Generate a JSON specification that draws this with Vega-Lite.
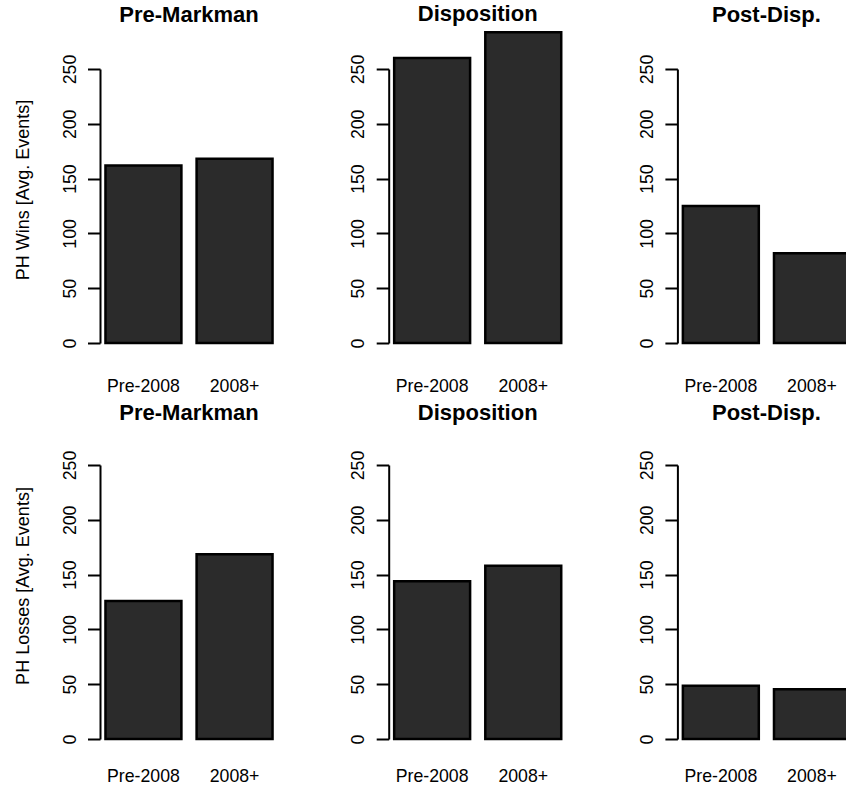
{
  "$schema": "https://vega.github.io/schema/vega-lite/v6.json",
  "padding": {"left": 13, "top": 3, "right": 0, "bottom": 0},
  "background": "white",
  "data": {
    "values": [
      {"metric": "Wins", "stage": "Pre-Markman", "period": "Pre-2008", "value": 162},
      {"metric": "Wins", "stage": "Pre-Markman", "period": "2008+", "value": 168},
      {"metric": "Wins", "stage": "Disposition", "period": "Pre-2008", "value": 260},
      {"metric": "Wins", "stage": "Disposition", "period": "2008+", "value": 283.5},
      {"metric": "Wins", "stage": "Post-Disp.", "period": "Pre-2008", "value": 125},
      {"metric": "Wins", "stage": "Post-Disp.", "period": "2008+", "value": 82},
      {"metric": "Losses", "stage": "Pre-Markman", "period": "Pre-2008", "value": 126},
      {"metric": "Losses", "stage": "Pre-Markman", "period": "2008+", "value": 168.5},
      {"metric": "Losses", "stage": "Disposition", "period": "Pre-2008", "value": 144},
      {"metric": "Losses", "stage": "Disposition", "period": "2008+", "value": 158},
      {"metric": "Losses", "stage": "Post-Disp.", "period": "Pre-2008", "value": 48.5},
      {"metric": "Losses", "stage": "Post-Disp.", "period": "2008+", "value": 45.5}
    ]
  },
  "config": {
    "view": {"stroke": null},
    "font": "Liberation Sans",
    "title": {"font": "Liberation Sans", "fontSize": 22, "fontWeight": "bold", "color": "black", "anchor": "middle", "frame": "group", "baseline": "alphabetic", "offset": 27.6},
    "axisX": {"domain": false, "ticks": false, "tickSize": 0, "grid": false, "labelFont": "Liberation Sans", "labelFontSize": 17.7, "labelColor": "black", "labelAngle": 0, "labelBaseline": "alphabetic", "labelPadding": 48.5, "title": null},
    "axisY": {"domainColor": "black", "domainWidth": 2, "tickColor": "black", "tickWidth": 2, "tickSize": 12.5, "grid": false, "values": [0, 50, 100, 150, 200, 250], "labelFont": "Liberation Sans", "labelFontSize": 17.7, "labelColor": "black", "labelAngle": -90, "labelAlign": "center", "labelBaseline": "alphabetic", "labelPadding": 12.5, "labelFlush": false, "labelOverlap": false, "titleFont": "Liberation Sans", "titleFontSize": 18, "titleFontWeight": "normal", "titleColor": "black", "titleAngle": -90, "titleAlign": "center", "titleBaseline": "alphabetic", "titleX": -72, "titleY": 120.5},
    "bar": {"fill": "#2b2b2b", "stroke": "black", "strokeWidth": 2.5}
  },
  "columns": 3,
  "spacing": {"row": 122, "column": 110.7},
  "bounds": "flush",
  "concat": [
    {
      "title": "Pre-Markman",
      "width": 178, "height": 274,
      "transform": [{"filter": "datum.metric === 'Wins' && datum.stage === 'Pre-Markman'"}],
      "mark": {"type": "bar"},
      "encoding": {
        "x": {"field": "period", "type": "nominal", "sort": ["Pre-2008", "2008+"], "scale": {"paddingInner": 0.1667, "paddingOuter": 0.06}},
        "y": {"field": "value", "type": "quantitative", "scale": {"domain": [0, 250], "nice": false}, "axis": {"title": "PH Wins [Avg. Events]"}}
      }
    },
    {
      "title": {"text": "Disposition", "offset": 4.6},
      "width": 178, "height": 274,
      "transform": [{"filter": "datum.metric === 'Wins' && datum.stage === 'Disposition'"}],
      "mark": {"type": "bar"},
      "encoding": {
        "x": {"field": "period", "type": "nominal", "sort": ["Pre-2008", "2008+"], "scale": {"paddingInner": 0.1667, "paddingOuter": 0.06}},
        "y": {"field": "value", "type": "quantitative", "scale": {"domain": [0, 250], "nice": false}, "axis": {"title": null}}
      }
    },
    {
      "title": "Post-Disp.",
      "width": 178, "height": 274,
      "transform": [{"filter": "datum.metric === 'Wins' && datum.stage === 'Post-Disp.'"}],
      "mark": {"type": "bar"},
      "encoding": {
        "x": {"field": "period", "type": "nominal", "sort": ["Pre-2008", "2008+"], "scale": {"paddingInner": 0.1667, "paddingOuter": 0.06}},
        "y": {"field": "value", "type": "quantitative", "scale": {"domain": [0, 250], "nice": false}, "axis": {"title": null}}
      }
    },
    {
      "title": {"text": "Pre-Markman", "offset": 25.6},
      "width": 178, "height": 274,
      "transform": [{"filter": "datum.metric === 'Losses' && datum.stage === 'Pre-Markman'"}],
      "mark": {"type": "bar"},
      "encoding": {
        "x": {"field": "period", "type": "nominal", "sort": ["Pre-2008", "2008+"], "scale": {"paddingInner": 0.1667, "paddingOuter": 0.06}, "axis": {"labelPadding": 42}},
        "y": {"field": "value", "type": "quantitative", "scale": {"domain": [0, 250], "nice": false}, "axis": {"title": "PH Losses [Avg. Events]"}}
      }
    },
    {
      "title": {"text": "Disposition", "offset": 25.6},
      "width": 178, "height": 274,
      "transform": [{"filter": "datum.metric === 'Losses' && datum.stage === 'Disposition'"}],
      "mark": {"type": "bar"},
      "encoding": {
        "x": {"field": "period", "type": "nominal", "sort": ["Pre-2008", "2008+"], "scale": {"paddingInner": 0.1667, "paddingOuter": 0.06}, "axis": {"labelPadding": 42}},
        "y": {"field": "value", "type": "quantitative", "scale": {"domain": [0, 250], "nice": false}, "axis": {"title": null}}
      }
    },
    {
      "title": {"text": "Post-Disp.", "offset": 25.6},
      "width": 178, "height": 274,
      "transform": [{"filter": "datum.metric === 'Losses' && datum.stage === 'Post-Disp.'"}],
      "mark": {"type": "bar"},
      "encoding": {
        "x": {"field": "period", "type": "nominal", "sort": ["Pre-2008", "2008+"], "scale": {"paddingInner": 0.1667, "paddingOuter": 0.06}, "axis": {"labelPadding": 42}},
        "y": {"field": "value", "type": "quantitative", "scale": {"domain": [0, 250], "nice": false}, "axis": {"title": null}}
      }
    }
  ]
}
